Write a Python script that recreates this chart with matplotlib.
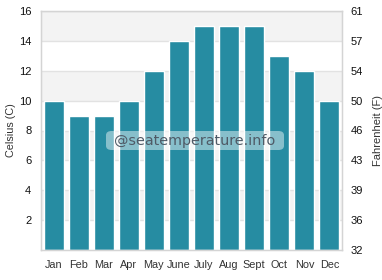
import matplotlib
matplotlib.use("Agg")
import matplotlib.pyplot as plt
from matplotlib.patches import FancyBboxPatch

months = ["Jan", "Feb", "Mar", "Apr", "May", "June", "July", "Aug", "Sept", "Oct", "Nov", "Dec"]
celsius = [10, 9, 9, 10, 12, 14, 15, 15, 15, 13, 12, 10]
c_ticks = [2, 4, 6, 8, 10, 12, 14, 16]
f_ticks = [0, 2, 4, 6, 8, 10, 12, 14, 16]
f_labels = ["32", "36", "39", "43", "46", "50", "54", "57", "61"]

plt.rcParams['font.family'] = ['Liberation Sans', 'DejaVu Sans']

fig = plt.figure(figsize=(3.82, 2.80), dpi=100)
ax = fig.add_axes([41/382, 30/280, (342-41)/382, (250-11)/280])

# alternating bands
for lo in range(2, 16, 4):
    ax.axhspan(lo, lo + 2, color="#f3f3f3", zorder=0, lw=0)
for y in c_ticks:
    ax.axhline(y, color="#e2e2e2", lw=1, zorder=1)

x = list(range(len(months)))
ax.bar(x, celsius, width=0.8, color="#268ca2", edgecolor="white", linewidth=1, zorder=2)

ax.set_xlim(-0.5, 11.5)
ax.set_ylim(0, 16)
ax.set_xticks(x)
ax.set_xticklabels(months, fontsize=7.8, color="#333333")
ax.set_yticks(c_ticks)
ax.set_yticklabels([str(v) for v in c_ticks], fontsize=8, color="#111111")
ax.tick_params(length=0, pad=7)
ax.tick_params(axis='x', pad=7)
ax.set_ylabel("Celsius (C)", fontsize=7.8, color="#333333", labelpad=2)
for s in ax.spines.values():
    s.set_color("#d4d4d4")
    s.set_linewidth(1)

ax2 = ax.twinx()
ax2.set_ylim(0, 16)
ax2.set_yticks(f_ticks)
ax2.set_yticklabels(f_labels, fontsize=8, color="#111111")
ax2.tick_params(length=0, pad=6)
ax2.set_ylabel("Fahrenheit (F)", fontsize=8, color="#333333", rotation=90, labelpad=7)
for s in ax2.spines.values():
    s.set_color("#d4d4d4")

# watermark
box = FancyBboxPatch((106/382, (280-150)/280), (284-106)/382, 19/280,
                     boxstyle="round,pad=0,rounding_size=0.015",
                     transform=fig.transFigure, facecolor="white", alpha=0.45,
                     edgecolor="none", zorder=5)
fig.patches.append(box)
fig.text(195/382, (280-141)/280, "@seatemperature.info", fontsize=10.4,
         family="DejaVu Sans", color="#4f5a66", ha="center", va="center", zorder=6)

fig.savefig("out.png", dpi=100)
